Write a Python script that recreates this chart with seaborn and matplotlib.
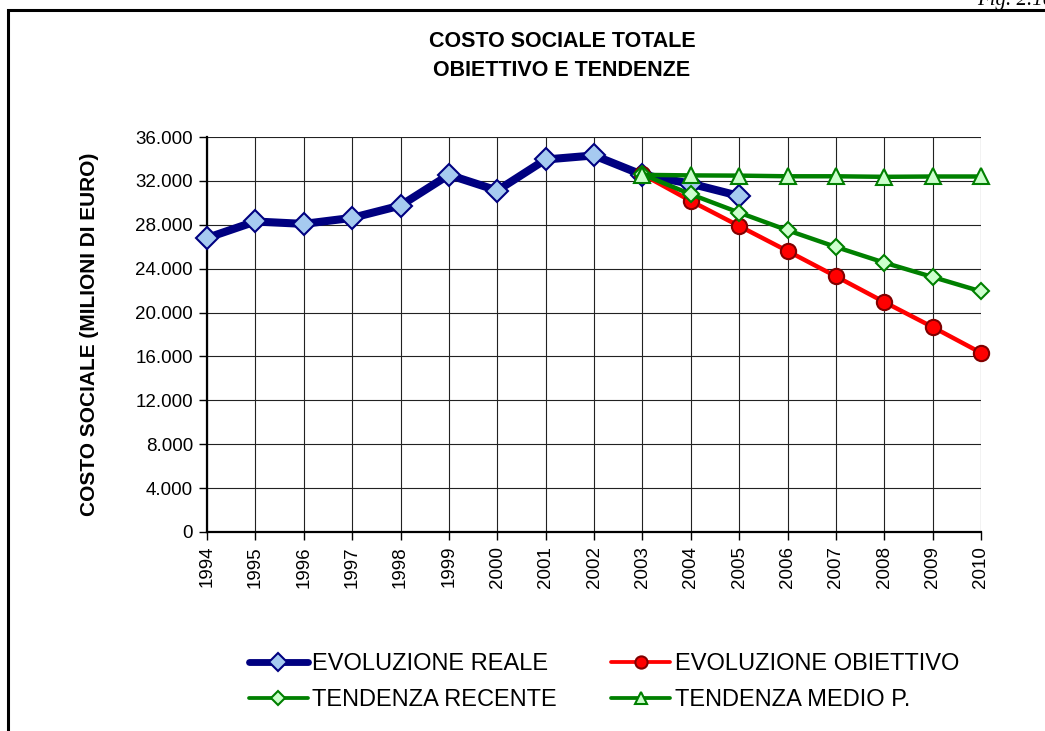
import numpy as np
import pandas as pd
import matplotlib
matplotlib.use("Agg")
import matplotlib.pyplot as plt
import seaborn as sns
from matplotlib.lines import Line2D
from matplotlib.patches import Rectangle
from matplotlib.ticker import FuncFormatter, MultipleLocator

# Data
years_reale = [1994, 1995, 1996, 1997, 1998, 1999, 2000, 2001, 2002, 2003, 2004, 2005]
evoluzione_reale = [26800, 28300, 28080, 28630, 29750, 32550, 31120, 33950, 34320, 32550, 31750, 30630]

years_prev = [2003, 2004, 2005, 2006, 2007, 2008, 2009, 2010]
evoluzione_obiettivo = [32600, 30170, 27890, 25610, 23300, 20960, 18680, 16330]
tendenza_recente = [32600, 30780, 29110, 27500, 25980, 24550, 23240, 21930]
tendenza_medio = [32550, 32500, 32480, 32420, 32420, 32370, 32400, 32400]

labels = ["EVOLUZIONE REALE", "EVOLUZIONE OBIETTIVO", "TENDENZA RECENTE", "TENDENZA MEDIO P."]

sns.set_style("white")
plt.rcParams["font.family"] = ["Liberation Sans", "DejaVu Sans"]
plt.rcParams["text.color"] = "black"
plt.rcParams["axes.labelcolor"] = "black"
plt.rcParams["xtick.color"] = "black"
plt.rcParams["ytick.color"] = "black"

fig = plt.figure(figsize=(10.45, 7.31), dpi=100)
ax = fig.add_axes([207 / 1045, 1 - 532 / 731, (981 - 207) / 1045, (532 - 137) / 731])

df_reale = pd.DataFrame({"anno": years_reale, "valore": evoluzione_reale})
df_prev = pd.DataFrame({"anno": years_prev, "obiettivo": evoluzione_obiettivo,
                        "recente": tendenza_recente, "medio": tendenza_medio})

# Series styles
styles = {
    "reale": dict(color="#000080", lw=5.8, marker="D", ms=11, mfc="#a6caf0", mec="#000080", mew=1.5),
    "obiettivo": dict(color="#ff0000", lw=3.2, marker="o", ms=11, mfc="#ff0000", mec="#800000", mew=1.5),
    "recente": dict(color="#008000", lw=3.2, marker="D", ms=8.5, mfc="#ccffcc", mec="#008000", mew=1.5),
    "medio": dict(color="#008000", lw=3.2, marker="^", ms=11, mfc="#ccffcc", mec="#008000", mew=1.5),
}

def draw(data, x, y, st):
    sns.lineplot(data=data, x=x, y=y, ax=ax, color=st["color"], linewidth=st["lw"],
                 marker=st["marker"], markersize=st["ms"], markerfacecolor=st["mfc"],
                 markeredgecolor=st["mec"], markeredgewidth=st["mew"], clip_on=False,
                 zorder=3)

draw(df_reale, "anno", "valore", styles["reale"])
draw(df_prev, "anno", "obiettivo", styles["obiettivo"])
draw(df_prev, "anno", "recente", styles["recente"])
draw(df_prev, "anno", "medio", styles["medio"])

# Axes
ax.set_xlim(1994, 2010)
ax.set_ylim(0, 36000)
ax.xaxis.set_major_locator(MultipleLocator(1))
ax.yaxis.set_major_locator(MultipleLocator(4000))
ax.yaxis.set_major_formatter(FuncFormatter(lambda v, p: f"{int(v):,}".replace(",", ".")))
ax.grid(True, color="#222222", linewidth=0.8, zorder=0)
ax.set_axisbelow(True)
for side in ["top", "right"]:
    ax.spines[side].set_visible(False)
for side in ["left", "bottom"]:
    ax.spines[side].set_color("black")
    ax.spines[side].set_linewidth(1.6)
ax.tick_params(axis="both", which="major", direction="out", length=6, width=1,
               color="black", labelsize=13.5, pad=4, left=True, bottom=True)
plt.setp(ax.get_xticklabels(), rotation=90)
ax.set_xlabel("")
ax.set_ylabel("COSTO SOCIALE (MILIONI DI EURO)", fontsize=15, fontweight="bold", labelpad=26)

fig.text(562 / 1045, 1 - 56 / 731, "COSTO SOCIALE TOTALE\nOBIETTIVO E TENDENZE",
         ha="center", va="center", fontsize=15.5, fontweight="bold", linespacing=1.5)

# Legend: row 1 reale / obiettivo, row 2 recente / medio (filled column-wise)
order = ["reale", "recente", "obiettivo", "medio"]
order_labels = [labels[0], labels[2], labels[1], labels[3]]
handles = []
for key in order:
    st = styles[key]
    handles.append(Line2D([], [], color=st["color"], lw=st["lw"] * 0.85, marker=st["marker"],
                          ms=st["ms"] * 0.8, mfc=st["mfc"], mec=st["mec"], mew=st["mew"]))
fig.legend(handles, order_labels, ncol=2, loc="center", bbox_to_anchor=(0.578, 1 - 682 / 731),
           frameon=False, fontsize=17, handlelength=2.5, handletextpad=0.2,
           columnspacing=2.3, labelspacing=0.6, numpoints=1)

# Frame and figure number (cut by the top edge as in the source page)
fig.patches.append(Rectangle((8 / 1045, -0.05), 1.2, 1 - 10 / 731 + 0.05, transform=fig.transFigure,
                             fill=False, edgecolor="black", linewidth=2.2, zorder=0))
fig.text(977 / 1045, 1 - 5 / 731, "Fig. 2.10", ha="left", va="baseline", fontsize=15,
         family=["Liberation Serif", "DejaVu Serif"], style="italic")

fig.savefig("out.png", dpi=100)
